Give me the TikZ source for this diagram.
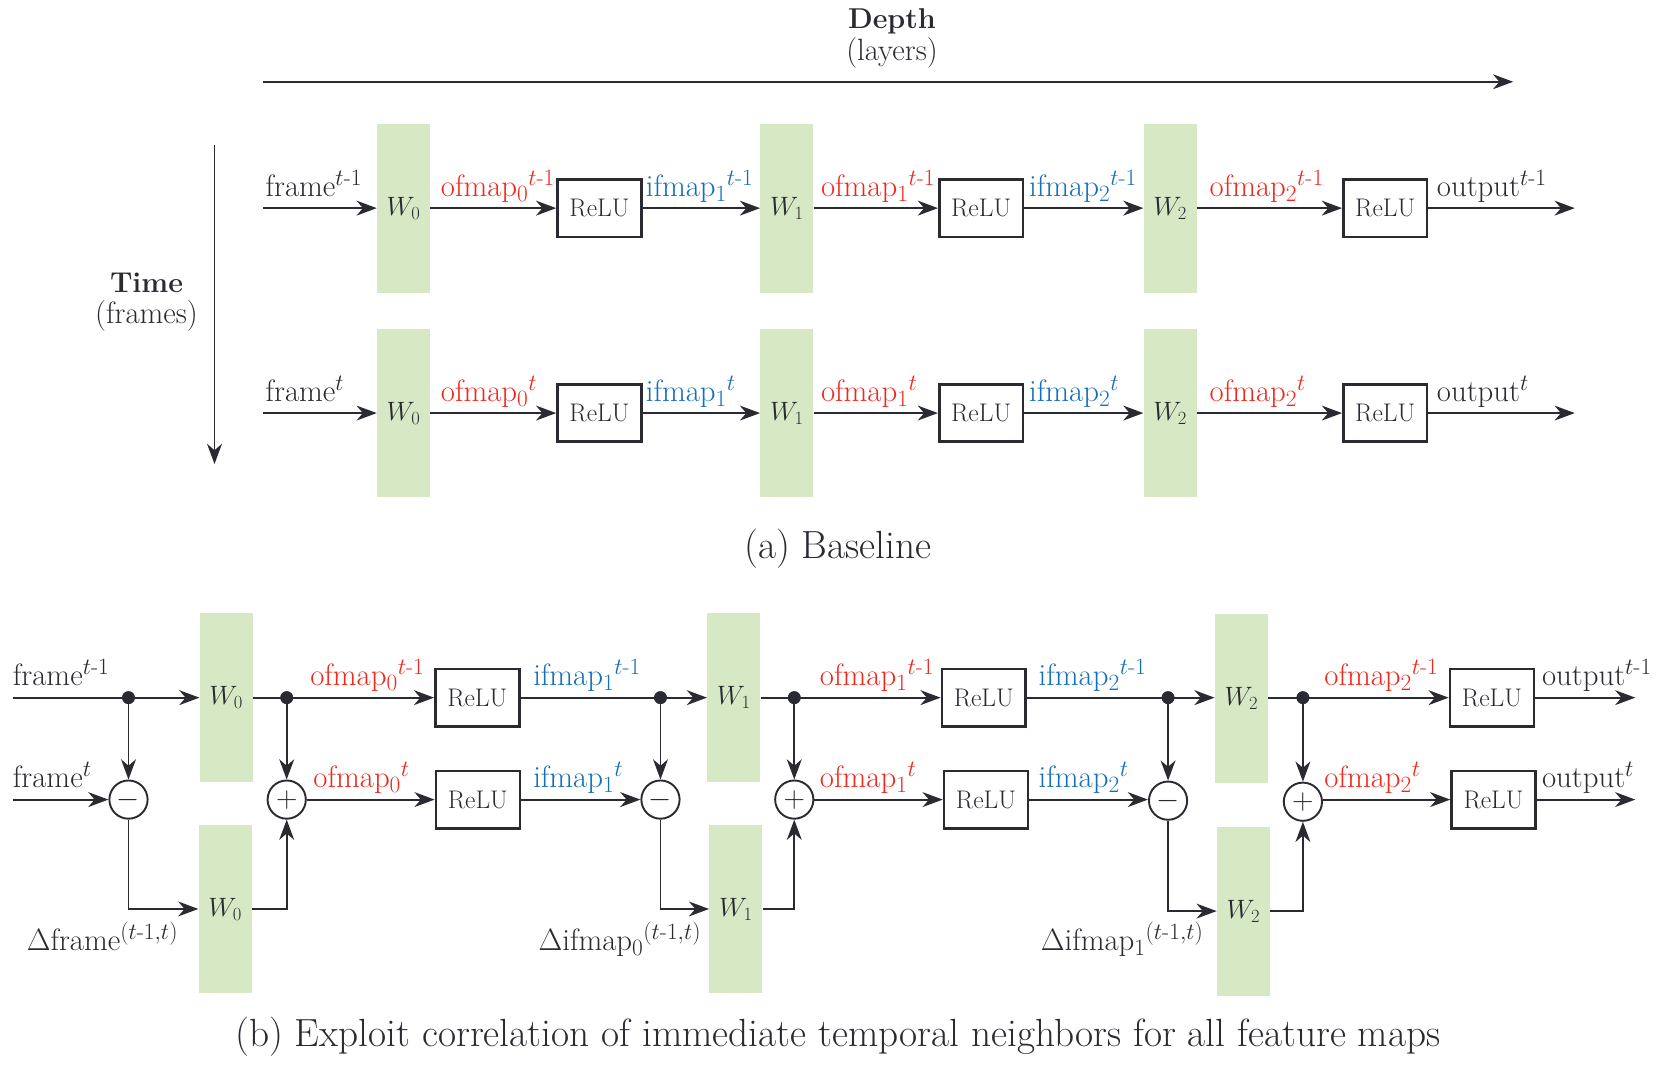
\RequirePackage{fix-cm}
\documentclass[tikz,border=0pt]{standalone}
\usepackage{amsmath}
\usepackage{fontspec}
\usetikzlibrary{arrows.meta}
\DeclareMathSizes{29}{29}{22}{16}
\definecolor{ink}{RGB}{42,43,50}
\definecolor{ofc}{RGB}{240,40,28}
\definecolor{ifc}{RGB}{20,110,185}
\definecolor{wgreen}{RGB}{214,232,196}
\newcommand{\tmo}{t\text{-}1}
\newcommand{\tpair}{(t\text{-}1,t)}
\tikzset{
  wbox/.style={fill=wgreen, draw=none, minimum width=50pt, minimum height=159pt, inner sep=0pt, text=ink, font=\fontsize{25}{28}\selectfont},
  relu/.style={draw=ink, line width=2.4pt, minimum width=79pt, minimum height=54pt, inner sep=0pt, text=ink, font=\fontsize{24}{26}\selectfont},
  lbl/.style={anchor=base west, inner sep=0pt, text=ink, font=\fontsize{29}{33}\selectfont},
  captxt/.style={inner sep=0pt, text=ink, font=\fontsize{37}{40}\selectfont},
  arr/.style={draw=ink, line width=1.8pt, -{Stealth[length=19pt,width=14pt,inset=6pt]}},
  ln/.style={draw=ink, line width=1.8pt},
  opc/.style={circle, draw=ink, line width=1.8pt, minimum size=36pt, inner sep=0pt, fill=white, text=ink, font=\fontsize{28}{30}\selectfont},
  jdot/.style={circle, fill=ink, minimum size=12pt, inner sep=0pt}
}
\begin{document}
\begin{tikzpicture}[x=1pt,y=-1pt]
\useasboundingbox (0,0) rectangle (1568,1007);
% ---------- axes ----------
\node[inner sep=0pt, text=ink, font=\bfseries\fontsize{27}{30}\selectfont] (depth) at (840,20) {Depth};
\node[inner sep=0pt, text=ink, font=\fontsize{29}{32}\selectfont] (layers) at (840,50) {(layers)};
\coordinate (dA) at (248,77); \coordinate (dB) at (1425,77);
\draw[arr] (dA) -- (dB);
\node[inner sep=0pt, text=ink, font=\bfseries\fontsize{27}{30}\selectfont] (time) at (138,266) {Time};
\node[inner sep=0pt, text=ink, font=\fontsize{29}{32}\selectfont] (frames) at (138,297) {(frames)};
\coordinate (tA) at (202,137); \coordinate (tB) at (202,437);
\draw[arr] (tA) -- (tB);
% ---------- (a) ----------
\foreach \r/\yy/\sp in {a/196/\tmo, b/389/t}{
  \coordinate (s\r) at (248,\yy);
  \node[wbox] (W0\r) at (380,\yy) {$W_0$};
  \node[relu] (R1\r) at (564.5,\yy) {ReLU};
  \node[wbox] (W1\r) at (741,\yy) {$W_1$};
  \node[relu] (R2\r) at (924,\yy) {ReLU};
  \node[wbox] (W2\r) at (1102,\yy) {$W_2$};
  \node[relu] (R3\r) at (1304.5,\yy) {ReLU};
  \coordinate (e\r) at (1483,\yy);
  \draw[arr] (s\r) -- (W0\r.west);
  \draw[arr] (W0\r.east) -- (R1\r.west);
  \draw[arr] (R1\r.east) -- (W1\r.west);
  \draw[arr] (W1\r.east) -- (R2\r.west);
  \draw[arr] (R2\r.east) -- (W2\r.west);
  \draw[arr] (W2\r.east) -- (R3\r.west);
  \draw[arr] (R3\r.east) -- (e\r);
  \node[lbl] (fl\r) at (250,\yy-11) {frame$^{\sp}$};
  \node[lbl, text=ofc] (o0\r) at (415,\yy-11) {ofmap$_0{}^{\sp}$};
  \node[lbl, text=ifc] (i1\r) at (608,\yy-11) {ifmap$_1{}^{\sp}$};
  \node[lbl, text=ofc] (o1\r) at (773,\yy-11) {ofmap$_1{}^{\sp}$};
  \node[lbl, text=ifc] (i2\r) at (969,\yy-11) {ifmap$_2{}^{\sp}$};
  \node[lbl, text=ofc] (o2\r) at (1139,\yy-11) {ofmap$_2{}^{\sp}$};
  \node[lbl] (ol\r) at (1353,\yy-11) {output$^{\sp}$};
}
\node[captxt] (capa) at (789,517) {(a) Baseline};
% ---------- (b) ----------
\coordinate (bsA) at (12,657); \coordinate (bsB) at (12,753);
\node[wbox] (V0) at (213,657) {$W_0$};
\node[wbox] (V0d) at (212,856) {$W_0$};
\node[wbox] (V1) at (691,657) {$W_1$};
\node[wbox] (V1d) at (693,856) {$W_1$};
\node[wbox] (V2) at (1169,658) {$W_2$};
\node[wbox] (V2d) at (1171,858) {$W_2$};
\node[relu] (QA1) at (449.5,657) {ReLU};
\node[relu] (QB1) at (450,753) {ReLU};
\node[relu] (QA2) at (926.5,657) {ReLU};
\node[relu] (QB2) at (928.5,753) {ReLU};
\node[relu] (QA3) at (1405,657) {ReLU};
\node[relu] (QB3) at (1406.5,753) {ReLU};
\node[opc] (m1) at (121,753) {$-$};
\node[opc] (p1) at (270,753) {$+$};
\node[opc] (m2) at (622,753) {$-$};
\node[opc] (p2) at (748,753) {$+$};
\node[opc] (m3) at (1100,754) {$-$};
\node[opc] (p3) at (1227,755) {$+$};
\node[jdot] (d1) at (121,657) {};
\node[jdot] (d2) at (270,657) {};
\node[jdot] (d3) at (622,657) {};
\node[jdot] (d4) at (748,657) {};
\node[jdot] (d5) at (1100,657) {};
\node[jdot] (d6) at (1227,657) {};
\coordinate (beA) at (1540,657); \coordinate (beB) at (1540,753);
% group 0
\draw[ln] (bsA) -- (d1.center);
\draw[arr] (d1.center) -- (V0.west);
\draw[arr] (d1.center) -- (m1.north);
\draw[arr] (bsB) -- (m1.west);
\draw[arr] (m1.south) |- (V0d.west);
\draw[ln] (V0.east) -- (d2.center);
\draw[arr] (d2.center) -- (QA1.west);
\draw[arr] (d2.center) -- (p1.north);
\draw[arr] (V0d.east) -| (p1.south);
\draw[arr] (p1.east) -- (QB1.west);
% group 1
\draw[ln] (QA1.east) -- (d3.center);
\draw[arr] (d3.center) -- (V1.west);
\draw[arr] (d3.center) -- (m2.north);
\draw[arr] (QB1.east) -- (m2.west);
\draw[arr] (m2.south) |- (V1d.west);
\draw[ln] (V1.east) -- (d4.center);
\draw[arr] (d4.center) -- (QA2.west);
\draw[arr] (d4.center) -- (p2.north);
\draw[arr] (V1d.east) -| (p2.south);
\draw[arr] (p2.east) -- (QB2.west);
% group 2
\draw[ln] (QA2.east) -- (d5.center);
\draw[arr] (d5.center) -- (V2.west |- d5.center);
\draw[arr] (d5.center) -- (m3.north);
\draw[arr] (QB2.east) -- (m3.west |- QB2.east);
\draw[arr] (m3.south) |- (V2d.west);
\draw[ln] (V2.east |- d6.center) -- (d6.center);
\draw[arr] (d6.center) -- (QA3.west);
\draw[arr] (d6.center) -- (p3.north);
\draw[arr] (V2d.east) -| (p3.south);
\draw[arr] (p3.east |- QB3.west) -- (QB3.west);
\draw[arr] (QA3.east) -- (beA);
\draw[arr] (QB3.east) -- (beB);
% redraw dots over lines
\foreach \n in {d1,d2,d3,d4,d5,d6}{\fill[ink] (\n) circle (6pt);}
% labels
\node[lbl] (bf1) at (12,646) {frame$^{\tmo}$};
\node[lbl] (bf2) at (12,742) {frame$^{t}$};
\node[lbl, text=ofc] (bo0a) at (292,646) {ofmap$_0{}^{\tmo}$};
\node[lbl, text=ofc] (bo0b) at (295,742) {ofmap$_0{}^{t}$};
\node[lbl, text=ifc] (bi1a) at (502,646) {ifmap$_1{}^{\tmo}$};
\node[lbl, text=ifc] (bi1b) at (502,742) {ifmap$_1{}^{t}$};
\node[lbl, text=ofc] (bo1a) at (772,646) {ofmap$_1{}^{\tmo}$};
\node[lbl, text=ofc] (bo1b) at (772,742) {ofmap$_1{}^{t}$};
\node[lbl, text=ifc] (bi2a) at (978,646) {ifmap$_2{}^{\tmo}$};
\node[lbl, text=ifc] (bi2b) at (978,742) {ifmap$_2{}^{t}$};
\node[lbl, text=ofc] (bo2a) at (1247,646) {ofmap$_2{}^{\tmo}$};
\node[lbl, text=ofc] (bo2b) at (1247,742) {ofmap$_2{}^{t}$};
\node[lbl] (bout1) at (1452,646) {output$^{\tmo}$};
\node[lbl] (bout2) at (1452,742) {output$^{t}$};
\node[lbl] (df) at (25,895) {$\Delta$frame$^{\tpair}$};
\node[lbl] (di0) at (507,895) {$\Delta$ifmap$_0{}^{\tpair}$};
\node[lbl] (di1) at (980,895) {$\Delta$ifmap$_1{}^{\tpair}$};
\node[captxt] (capb) at (789,976) {(b) Exploit correlation of immediate temporal neighbors for all feature maps};
\end{tikzpicture}
\end{document}
